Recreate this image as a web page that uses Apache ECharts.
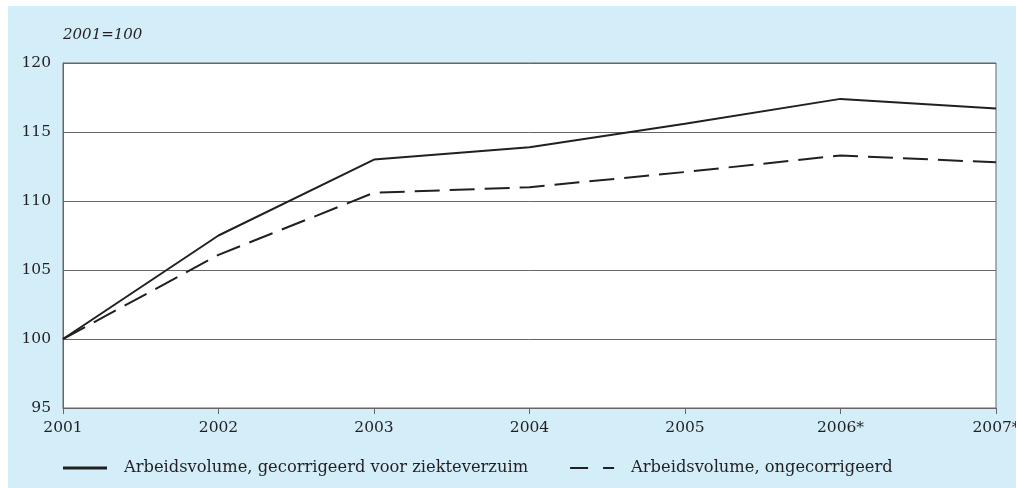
<!DOCTYPE html>
<html>
<head>
<meta charset="utf-8">
<script src="https://cdn.jsdelivr.net/npm/echarts@6/dist/echarts.min.js"></script>
<style>
  html, body { margin: 0; padding: 0; background: #fff; }
  #wrap { position: relative; width: 1016px; height: 488px; overflow: hidden; background: #fff; }
  #panel { position: absolute; left: 8px; top: 6px; right: 0; bottom: 0; background: #d4eef9; }
  #chart { position: absolute; left: 0; top: 0; width: 1016px; height: 488px; }
</style>
</head>
<body>
<div id="wrap">
  <div id="panel"></div>
  <div id="chart"></div>
</div>
<script>
const years = ["2001", "2002", "2003", "2004", "2005", "2006*", "2007*"];
const corrected = [100, 107.5, 113.0, 113.9, 115.6, 117.4, 116.7];
const uncorrected = [100, 106.1, 110.6, 111.0, 112.1, 113.3, 112.8];
const correctedName = "Arbeidsvolume, gecorrigeerd voor ziekteverzuim";
const uncorrectedName = "Arbeidsvolume, ongecorrigeerd";

const lineColor = "#231f20";
const gridColor = "#666666";
const serif = "DejaVu Serif";

const chart = echarts.init(document.getElementById("chart"), undefined, { renderer: "canvas" });

chart.setOption({
  animation: false,
  backgroundColor: "transparent",
  title: {
    text: "2001=100",
    left: 58,
    top: 23,
    textStyle: {
      color: "#231f20",
      fontFamily: serif,
      fontSize: 15,
      fontStyle: "italic",
      fontWeight: "normal"
    }
  },
  legend: {
    left: 58,
    top: 455,
    itemGap: 42,
    itemWidth: 44,
    itemHeight: 3,
    textStyle: {
      color: "#231f20",
      fontFamily: serif,
      fontSize: 16.3,
      padding: [0, 0, 0, 12]
    },
    data: [
      { name: correctedName, icon: "rect" },
      { name: uncorrectedName, icon: "path://M0,0H18V2H0Z M33,0H44V2H33Z" }
    ]
  },
  grid: {
    left: 63,
    right: 20,
    top: 63,
    bottom: 80,
    outerBoundsMode: "none",
    containLabel: false,
    show: true,
    backgroundColor: "#ffffff",
    borderColor: gridColor,
    borderWidth: 1
  },
  xAxis: {
    type: "category",
    boundaryGap: false,
    data: years,
    axisLine: { lineStyle: { color: gridColor, width: 1 } },
    axisTick: { show: true, length: 6, lineStyle: { color: gridColor } },
    axisLabel: {
      color: "#231f20",
      fontFamily: serif,
      fontSize: 15.5,
      margin: 12,
      showMaxLabel: true,
      showMinLabel: true
    }
  },
  yAxis: {
    type: "value",
    min: 95,
    max: 120,
    interval: 5,
    axisLine: { show: true, lineStyle: { color: gridColor, width: 1 } },
    axisTick: { show: false },
    splitLine: { lineStyle: { color: gridColor, width: 1 } },
    axisLabel: {
      color: "#231f20",
      fontFamily: serif,
      fontSize: 15.5,
      margin: 12
    }
  },
  series: [
    {
      name: correctedName,
      type: "line",
      data: corrected,
      symbol: "none",
      color: lineColor,
      lineStyle: { color: lineColor, width: 2 }
    },
    {
      name: uncorrectedName,
      type: "line",
      data: uncorrected,
      symbol: "none",
      color: lineColor,
      lineStyle: { color: lineColor, width: 2, type: [25, 10] }
    }
  ]
});
</script>
</body>
</html>
